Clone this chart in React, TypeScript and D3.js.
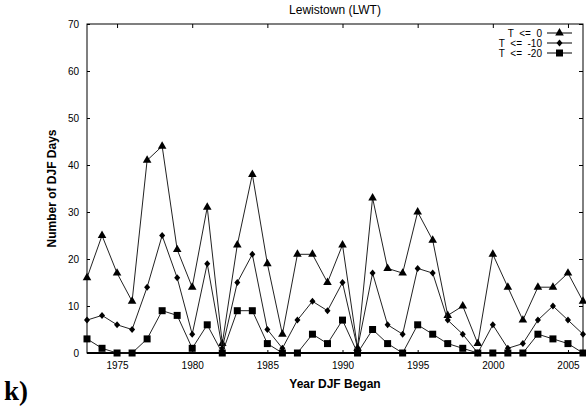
import * as d3 from 'd3';
import { useRef, useEffect } from 'react';

// CHART SETUP
const W = 586;
const H = 412;
const MARGIN = { TOP: 24, BOTTOM: 59, LEFT: 87, RIGHT: 3 };
const FONT = '"Liberation Sans", Arial, sans-serif';

const YEARS = d3.range(1973, 2007);
const T0 = [16, 25, 17, 11, 41, 44, 22, 14, 31, 2, 23, 38, 19, 4, 21, 21, 15, 23, 1, 33, 18, 17, 30, 24, 8, 10, 2, 21, 14, 7, 14, 14, 17, 11];
const T10 = [7, 8, 6, 5, 14, 25, 16, 4, 19, 1, 15, 21, 5, 1, 7, 11, 9, 15, 1, 17, 6, 4, 18, 17, 7, 4, 0, 6, 1, 2, 7, 10, 7, 4];
const T20 = [3, 1, 0, 0, 3, 9, 8, 1, 6, 0, 9, 9, 2, 0, 0, 4, 2, 7, 0, 5, 2, 0, 6, 4, 2, 1, 0, 0, 0, 0, 4, 3, 2, 0];
const SERIES = [
  { name: 'T  <=  0', values: T0, marker: 'triangle' },
  { name: 'T  <=  -10', values: T10, marker: 'diamond' },
  { name: 'T  <=  -20', values: T20, marker: 'square' },
];
const X_TICKS = [1975, 1980, 1985, 1990, 1995, 2000, 2005];
const Y_TICKS = [0, 10, 20, 30, 40, 50, 60, 70];

const markerPath = (m: string) => {
  if (m === 'triangle') return d3.symbol(d3.symbolTriangle, 32)();
  if (m === 'diamond') return 'M0,-3.5L3,0L0,3.5L-3,0Z';
  return d3.symbol(d3.symbolSquare, 49)();
};

const Chart = () => {
  const gRef = useRef<SVGGElement>(null);

  useEffect(() => {
    const g = d3.select(gRef.current);
    g.selectAll('*').remove();

    const iw = W - MARGIN.LEFT - MARGIN.RIGHT;
    const ih = H - MARGIN.TOP - MARGIN.BOTTOM;
    const x = d3.scaleLinear().domain([1973, 2006]).range([0, iw]);
    const y = d3.scaleLinear().domain([0, 70]).range([ih, 0]);

    const plot = g.append('g').attr('transform', `translate(${MARGIN.LEFT},${MARGIN.TOP})`);

    // frame
    plot.append('rect').attr('width', iw).attr('height', ih)
      .attr('fill', 'none').attr('stroke', '#000').attr('stroke-width', 1);

    // axes with inward ticks
    const bottom = plot.append('g').attr('transform', `translate(0,${ih})`)
      .call(d3.axisBottom(x).tickValues(X_TICKS).tickFormat(d3.format('d')).tickSizeInner(-3).tickSizeOuter(0).tickPadding(9));
    const top = plot.append('g')
      .call(d3.axisTop(x).tickValues(X_TICKS).tickFormat(() => '').tickSizeInner(-4).tickSizeOuter(0));
    const left = plot.append('g')
      .call(d3.axisLeft(y).tickValues(Y_TICKS).tickFormat(d3.format('d')).tickSizeInner(-3).tickSizeOuter(0).tickPadding(8));
    const right = plot.append('g').attr('transform', `translate(${iw},0)`)
      .call(d3.axisRight(y).tickValues(Y_TICKS).tickFormat(() => '').tickSizeInner(-4).tickSizeOuter(0));
    [bottom, top, left, right].forEach((a) => {
      a.select('.domain').remove();
      a.selectAll('text').attr('font-family', FONT).attr('font-size', 10).attr('fill', '#000');
      a.selectAll('line').attr('stroke', '#000');
    });

    // zero line is drawn heavier
    plot.append('line').attr('x1', 0).attr('x2', iw).attr('y1', y(0)).attr('y2', y(0))
      .attr('stroke', '#000').attr('stroke-width', 2);

    const line = d3.line<number>().x((d, i) => x(YEARS[i])).y((d) => y(d));

    SERIES.forEach((s) => {
      plot.append('path').datum(s.values).attr('d', line)
        .attr('fill', 'none').attr('stroke', '#222').attr('stroke-width', 1);
      plot.append('g').selectAll('path').data(s.values).join('path')
        .attr('transform', (d, i) => `translate(${x(YEARS[i])},${y(d)})`)
        .attr('d', markerPath(s.marker)).attr('fill', '#000');
    });

    // legend
    const legend = plot.append('g').attr('transform', `translate(${iw - 36},9)`);
    SERIES.forEach((s, i) => {
      const row = legend.append('g').attr('transform', `translate(0,${i * 10})`);
      row.append('text').attr('x', -5).attr('y', 3.5).attr('text-anchor', 'end')
        .attr('font-family', FONT).attr('font-size', 10).attr('xml:space', 'preserve')
        .style('white-space', 'pre').text(s.name);
      row.append('line').attr('x1', 0).attr('x2', 25).attr('stroke', '#000');
      row.append('path').attr('transform', 'translate(12.5,0)').attr('d', markerPath(s.marker)).attr('fill', '#000');
    });

    // titles
    g.append('text').attr('x', MARGIN.LEFT + iw / 2).attr('y', 14).attr('text-anchor', 'middle')
      .attr('font-family', FONT).attr('font-size', 12).text('Lewistown (LWT)');
    g.append('text').attr('x', MARGIN.LEFT + iw / 2).attr('y', 388).attr('text-anchor', 'middle')
      .attr('font-family', FONT).attr('font-size', 12).attr('font-weight', 'bold').text('Year DJF Began');
    g.append('text').attr('transform', `translate(56,${MARGIN.TOP + ih / 2}) rotate(-90)`).attr('text-anchor', 'middle')
      .attr('font-family', FONT).attr('font-size', 12).attr('font-weight', 'bold').text('Number of DJF Days');
    g.append('text').attr('x', 4).attr('y', 400)
      .attr('font-family', '"Liberation Serif", "Times New Roman", serif').attr('font-size', 27).attr('font-weight', 'bold').text('k)');
  }, []);

  return (
    <svg width={W} height={H} style={{ position: 'absolute', left: 0, top: 0, background: '#fff' }}>
      <g ref={gRef} />
    </svg>
  );
};

export default function App() {
  return <Chart />;
}
